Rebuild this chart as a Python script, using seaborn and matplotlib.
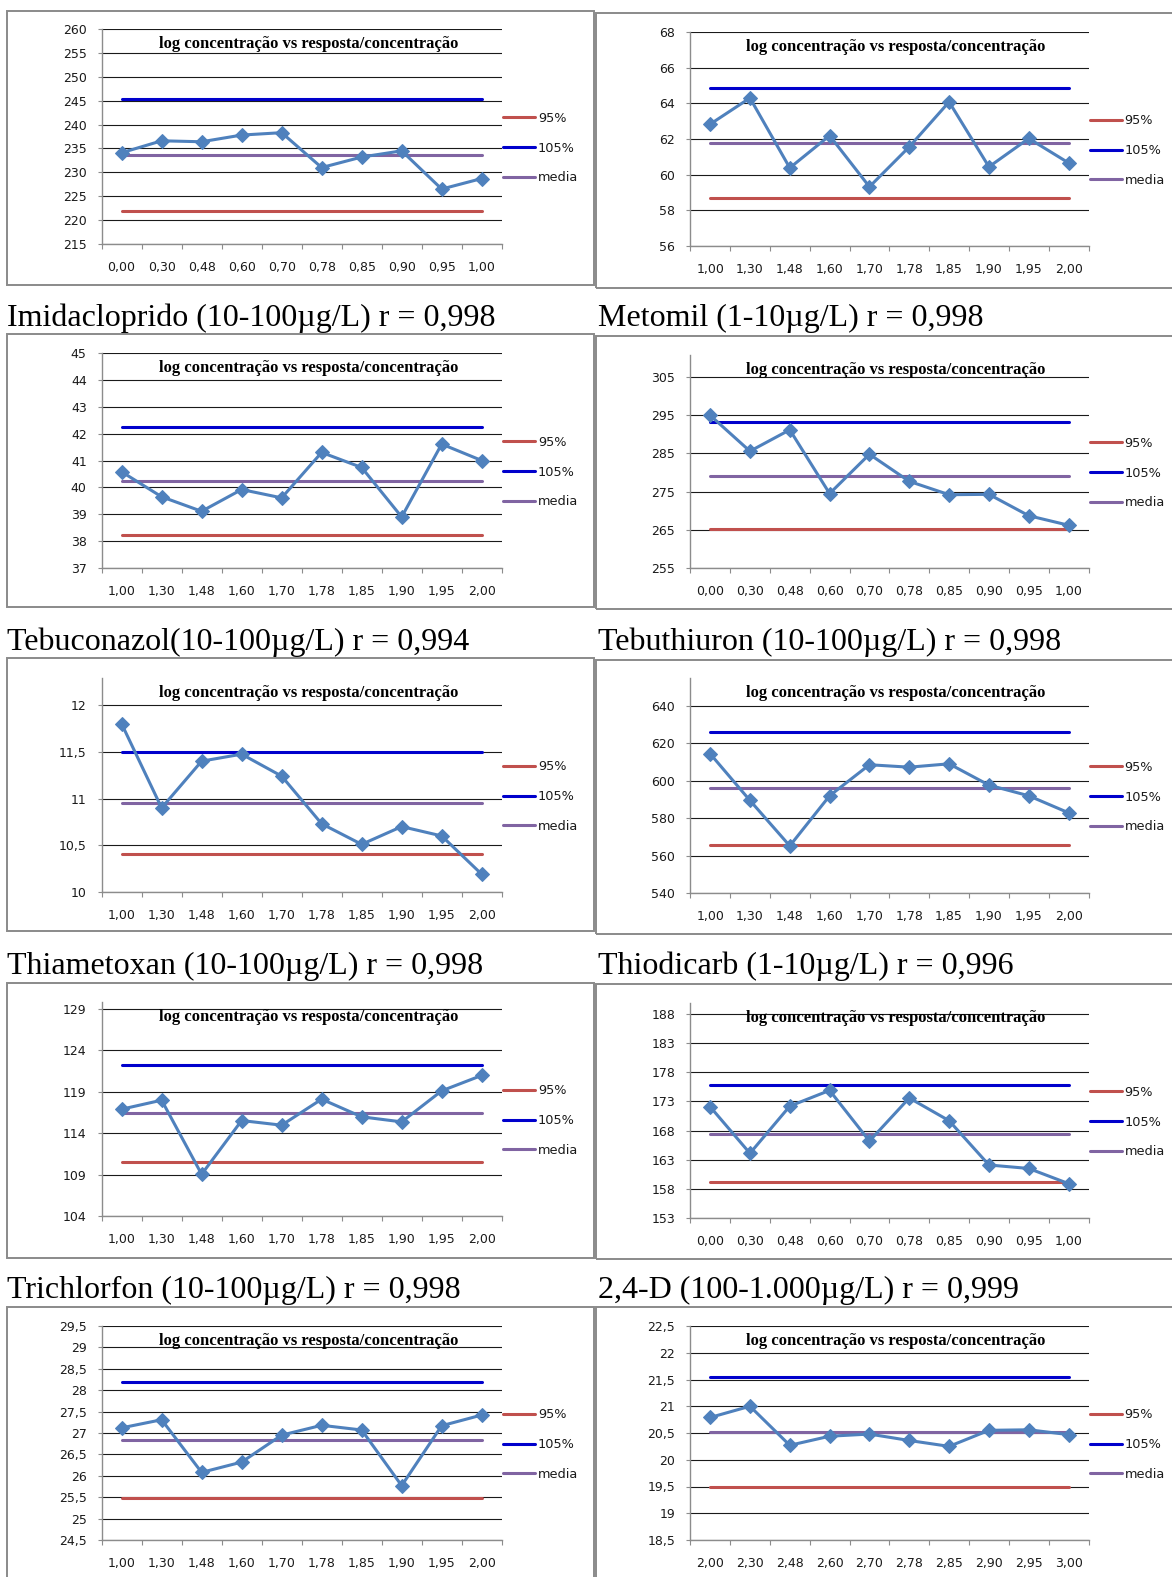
import numpy as np
import matplotlib
matplotlib.use("Agg")
import matplotlib.pyplot as plt
from matplotlib.lines import Line2D
from matplotlib.patches import Rectangle
import seaborn as sns

sns.set_theme(style="white")
plt.rcParams['font.family'] = ['DejaVu Sans']

# ---------------- data ----------------
cats_a = ["0,00", "0,30", "0,48", "0,60", "0,70", "0,78", "0,85", "0,90", "0,95", "1,00"]
cats_b = ["1,00", "1,30", "1,48", "1,60", "1,70", "1,78", "1,85", "1,90", "1,95", "2,00"]
cats_c = ["2,00", "2,30", "2,48", "2,60", "2,70", "2,78", "2,85", "2,90", "2,95", "3,00"]

chart_title = "log concentração vs resposta/concentração"
legend_labels = ["95%", "105%", "media"]

captions = [None, None,
            "Imidacloprido (10-100µg/L) r = 0,998", "Metomil (1-10µg/L) r = 0,998",
            "Tebuconazol(10-100µg/L) r = 0,994", "Tebuthiuron (10-100µg/L) r = 0,998",
            "Thiametoxan (10-100µg/L) r = 0,998", "Thiodicarb (1-10µg/L) r = 0,996",
            "Trichlorfon (10-100µg/L) r = 0,998", "2,4-D (100-1.000µg/L) r = 0,999"]

p1_vals = [234.1, 236.6, 236.4, 237.8, 238.3, 231.0, 233.2, 234.5, 226.5, 228.7]
p1_lim = [222.0, 245.4, 233.7]          # 95%, 105%, media
p2_vals = [62.83, 64.30, 60.38, 62.19, 59.32, 61.56, 64.08, 60.44, 62.03, 60.66]
p2_lim = [58.69, 64.84, 61.75]
imid_vals = [40.58, 39.65, 39.11, 39.92, 39.61, 41.30, 40.74, 38.90, 41.61, 41.00]
imid_lim = [38.22, 42.26, 40.25]
meto_vals = [295.0, 285.6, 291.2, 274.5, 284.8, 277.7, 274.2, 274.3, 268.7, 266.2]
meto_lim = [265.2, 293.2, 279.2]
tebuc_vals = [11.80, 10.90, 11.40, 11.475, 11.24, 10.73, 10.51, 10.70, 10.60, 10.19]
tebuc_lim = [10.41, 11.50, 10.95]
tebut_vals = [614.5, 589.5, 565.2, 592.0, 608.6, 607.3, 609.1, 597.7, 592.0, 582.9]
tebut_lim = [565.9, 625.9, 595.9]
thiam_vals = [116.90, 117.99, 109.04, 115.53, 114.97, 118.11, 115.98, 115.37, 119.12, 120.98]
thiam_lim = [110.57, 122.27, 116.42]
thiod_vals = [172.1, 164.1, 172.2, 174.9, 166.2, 173.6, 169.7, 162.1, 161.5, 158.9]
thiod_lim = [159.2, 175.78, 167.46]
trich_vals = [27.12, 27.31, 26.08, 26.32, 26.95, 27.18, 27.07, 25.77, 27.17, 27.42]
trich_lim = [25.49, 28.18, 26.83]
d24_vals = [20.79, 21.00, 20.27, 20.44, 20.48, 20.36, 20.25, 20.55, 20.56, 20.47]
d24_lim = [19.50, 21.55, 20.52]

p1_yt = [215, 220, 225, 230, 235, 240, 245, 250, 255, 260]
p1_ytl = ["215", "220", "225", "230", "235", "240", "245", "250", "255", "260"]
p2_yt = [56, 58, 60, 62, 64, 66, 68]
p2_ytl = ["56", "58", "60", "62", "64", "66", "68"]
imid_yt = [37, 38, 39, 40, 41, 42, 43, 44, 45]
imid_ytl = ["37", "38", "39", "40", "41", "42", "43", "44", "45"]
meto_yt = [255, 265, 275, 285, 295, 305]
meto_ytl = ["255", "265", "275", "285", "295", "305"]
tebuc_yt = [10, 10.5, 11, 11.5, 12]
tebuc_ytl = ["10", "10,5", "11", "11,5", "12"]
tebut_yt = [540, 560, 580, 600, 620, 640]
tebut_ytl = ["540", "560", "580", "600", "620", "640"]
thiam_yt = [104, 109, 114, 119, 124, 129]
thiam_ytl = ["104", "109", "114", "119", "124", "129"]
thiod_yt = [153, 158, 163, 168, 173, 178, 183, 188]
thiod_ytl = ["153", "158", "163", "168", "173", "178", "183", "188"]
trich_yt = [24.5, 25, 25.5, 26, 26.5, 27, 27.5, 28, 28.5, 29, 29.5]
trich_ytl = ["24,5", "25", "25,5", "26", "26,5", "27", "27,5", "28", "28,5", "29", "29,5"]
d24_yt = [18.5, 19, 19.5, 20, 20.5, 21, 21.5, 22, 22.5]
d24_ytl = ["18,5", "19", "19,5", "20", "20,5", "21", "21,5", "22", "22,5"]

# axis maxima (Excel leaves extra room above the last tick on some panels)
y_max = [260, 68, 45, 310.8, 12.29, 655, 129.85, 189.9, 29.5, 22.5]

panels = [
    (cats_a, p1_vals, p1_lim, p1_yt, p1_ytl),
    (cats_b, p2_vals, p2_lim, p2_yt, p2_ytl),
    (cats_b, imid_vals, imid_lim, imid_yt, imid_ytl),
    (cats_a, meto_vals, meto_lim, meto_yt, meto_ytl),
    (cats_b, tebuc_vals, tebuc_lim, tebuc_yt, tebuc_ytl),
    (cats_b, tebut_vals, tebut_lim, tebut_yt, tebut_ytl),
    (cats_b, thiam_vals, thiam_lim, thiam_yt, thiam_ytl),
    (cats_a, thiod_vals, thiod_lim, thiod_yt, thiod_ytl),
    (cats_b, trich_vals, trich_lim, trich_yt, trich_ytl),
    (cats_c, d24_vals, d24_lim, d24_yt, d24_ytl),
]

# ---------------- layout (pixels) ----------------
W, H = 1172, 1577
col_x = [(101.6, 501.7), (690.2, 1088.5)]
ax_tb = [(29, 244), (32, 246), (353, 568), (355, 568), (678, 892), (678, 893),
         (1002, 1216), (1003, 1218), (1326, 1540), (1326, 1540)]
box_left = [(6.8, 594.3), (595.7, 1180)]
box_tb_left = [(11, 285), (333.5, 607), (658, 931), (982.7, 1257.7), (1306.7, 1590)]
box_tb_right = [(13, 288), (336, 609), (660, 934), (983.5, 1259), (1307, 1590)]
cap_x = [6.8, 598]
cap_base = [326, 650, 974, 1298]

c_series = "#4F81BD"
c_lines = ["#C0504D", "#0000CC", "#8064A2"]
tick_col = "#1A1A1A"
axis_col = "#8C8C8C"

fig = plt.figure(figsize=(W / 100, H / 100), dpi=100, facecolor="white")


def rect(l, t, r, b):
    return [l / W, 1 - b / H, (r - l) / W, (b - t) / H]


for i, (cats, vals, lims, yt, ytl) in enumerate(panels):
    col = i % 2
    l, r = col_x[col]
    t, b = ax_tb[i]
    ax = fig.add_axes(rect(l, t, r, b))
    ax.set_facecolor("white")
    n = len(cats)
    xs = np.arange(n)

    for v, c in zip(lims, c_lines):
        sns.lineplot(x=xs, y=np.full(n, v), color=c, lw=2.2, ax=ax,
                     legend=False, zorder=3)
    sns.lineplot(x=xs, y=vals, color=c_series, lw=2.2, marker="D",
                 markersize=7, markeredgecolor=c_series, ax=ax,
                 legend=False, zorder=4)

    ax.set_xlim(-0.5, n - 0.5)
    ax.set_ylim(yt[0], y_max[i])
    ax.set_yticks(yt)
    ax.set_yticklabels(ytl)
    ax.set_xticks(np.arange(n + 1) - 0.5)
    ax.set_xticklabels([])
    ax.set_xticks(xs, minor=True)
    ax.set_xticklabels(cats, minor=True)
    ax.set_xlabel("")
    ax.set_ylabel("")

    ax.yaxis.grid(True, color="#1A1A1A", lw=0.8)
    ax.xaxis.grid(False)
    ax.set_axisbelow(True)
    for s in ("top", "right"):
        ax.spines[s].set_visible(False)
    for s in ("left", "bottom"):
        ax.spines[s].set_color(axis_col)
        ax.spines[s].set_linewidth(1.0)

    ax.tick_params(axis="x", which="major", direction="out", length=3.6,
                   width=0.8, color=axis_col, bottom=True)
    ax.tick_params(axis="x", which="minor", length=0, pad=12, labelsize=9,
                   labelcolor=tick_col, bottom=True)
    ax.tick_params(axis="y", direction="out", length=3.2, width=0.8,
                   color=axis_col, left=True, pad=7.5, labelsize=9,
                   labelcolor=tick_col)

    handles = [Line2D([], [], color=c, lw=2.2) for c in c_lines]
    ax.legend(handles, legend_labels, loc="center left",
              bbox_to_anchor=(1.0, 0.446), frameon=False, fontsize=9.3,
              handlelength=2.5, handletextpad=0.2, borderpad=0,
              borderaxespad=0.1, labelspacing=1.3, labelcolor=tick_col)

    fig.text(((l + r) / 2 + 6.6) / W, 1 - (t + 15) / H, chart_title,
             family="Liberation Serif", weight="bold", fontsize=12,
             ha="center", va="center", color="black")

    if captions[i]:
        row = i // 2
        fig.text(cap_x[col] / W, 1 - cap_base[row - 1] / H, captions[i],
                 family="Liberation Serif", fontsize=23, ha="left",
                 va="baseline", color="black")

# panel frames
for row in range(5):
    for col, tbs in ((0, box_tb_left), (1, box_tb_right)):
        bt, bb = tbs[row]
        bl, br = box_left[col]
        fig.patches.append(Rectangle((bl / W, 1 - bb / H), (br - bl) / W,
                                     (bb - bt) / H, transform=fig.transFigure,
                                     fill=False, ec="#8A8A8A", lw=1.4,
                                     zorder=0))

fig.savefig("out.png", dpi=100, facecolor="white")
